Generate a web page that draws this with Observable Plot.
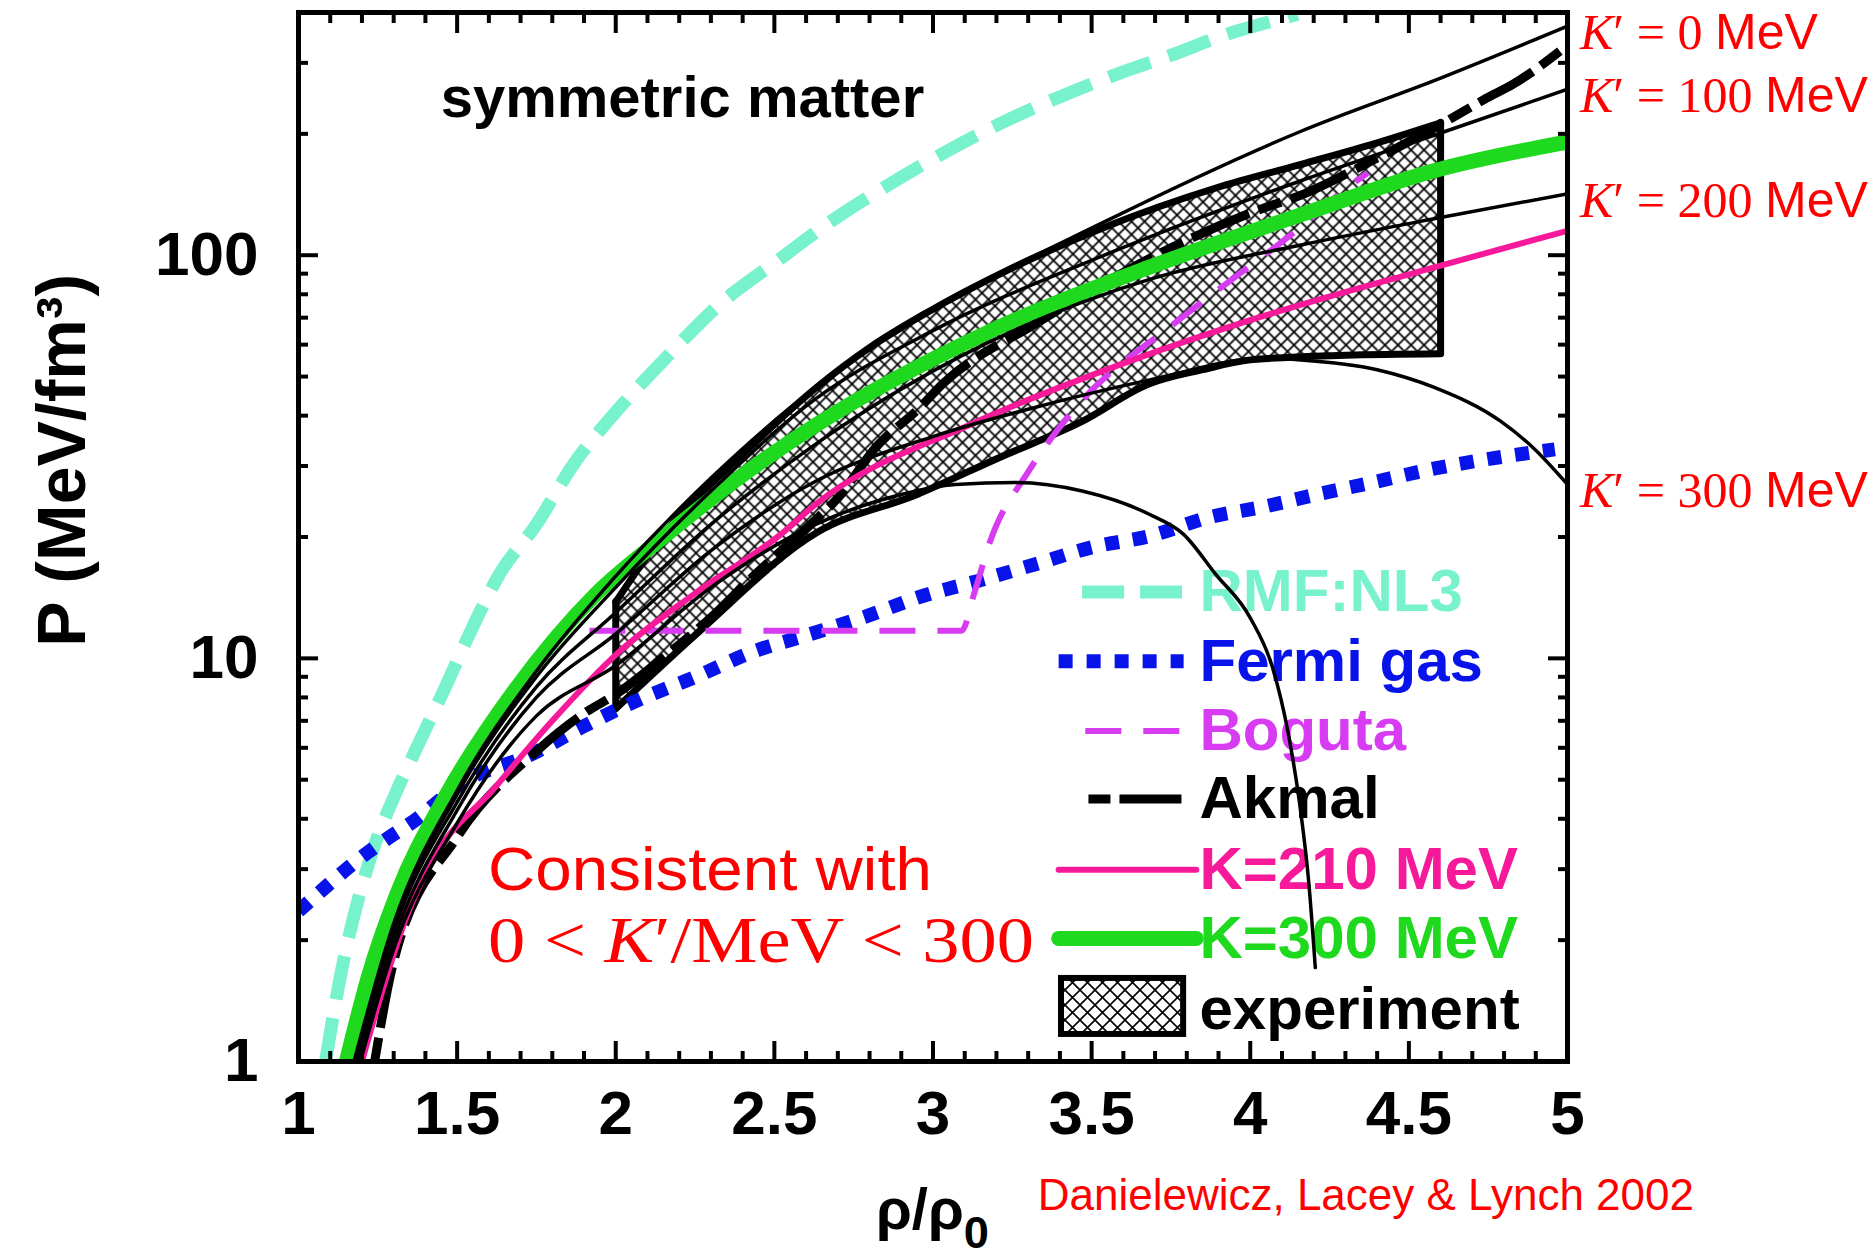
<!DOCTYPE html>
<html>
<head>
<meta charset="utf-8">
<script src="https://cdn.jsdelivr.net/npm/d3@7"></script>
<script src="https://cdn.jsdelivr.net/npm/@observablehq/plot@0.6"></script>
<style>
html, body { margin: 0; padding: 0; background: #fff; }
#chart svg { display: block; }
</style>
</head>
<body>
<div id="chart"></div>
<script>
// ===== values (x = rho/rho0, p = P in MeV/fm^3) =====
const rmfX = [1.085,1.129,1.23,1.309,1.382,1.467,1.539,1.634,1.75,1.867,2.002,2.16,2.327,2.516,2.696,2.863,3.043,3.222,3.399,3.578,3.758,3.925,4.092,4.149];
const rmfP = [1.0,1.58,3.26,4.68,6.22,8.62,11.5,16.2,21.5,30.3,41.0,55.8,75.5,97.7,124,150,181,214,247,281,315,353,385,396];

const fermiX = [1.0,1.095,1.189,1.277,1.362,1.523,1.728,1.898,2.075,2.255,2.428,2.611,2.781,2.97,3.159,3.32,3.506,3.682,3.872,4.045,4.209,4.385,4.574,4.748,4.96];
const fermiP = [2.36,2.75,3.17,3.56,3.94,4.95,5.75,6.78,7.91,9.02,10.35,11.47,12.65,14.3,15.7,17.1,18.9,20.1,22.4,23.8,25.5,27.3,29.5,31.2,33.0];

const bogutaX = [1.917,3.09,3.13,3.18,3.30,3.44,3.77,3.95,4.12,4.32,4.37];
const bogutaP = [11.7,11.7,14.5,19.5,29,41,68.6,88,111,150,160];

const akmalX = [1.24,1.3,1.5,1.75,1.91,2.0,2.15,2.31,2.43,2.6,2.7,2.82,2.96,3.03,3.32,3.79,4.02,4.17,4.38,4.6,4.74,4.83,5.0];
const akmalP = [1.0,1.77,3.6,5.88,7.39,8.14,10.05,12.85,15.9,21,25,33.4,42,47.9,67.4,108,129,142,171,211,244,266,332];

const k210X = [1.2,1.27,1.34,1.41,1.62,1.8,2.0,2.25,2.52,2.63,3.12,3.62,3.99,4.58,5.0];
const k210P = [1.0,1.55,2.28,3.03,4.79,7.0,10.2,14.5,20.3,24.1,38.1,54.6,68.6,93.3,115];

const k300X = [1.151,1.22,1.31,1.467,1.68,1.94,2.15,2.4,2.633,3.16,3.68,4.16,4.58,5.0];
const k300P = [1.0,1.62,2.6,4.6,8.3,14.5,20,28.5,38,63.7,93.3,126,162,191];

// Danielewicz et al. K' family (thin black)
const kp0X = [1.175,1.3,1.5,1.75,2.0,2.3,2.63,3.0,3.54,4.16,4.6,5.0];
const kp0P = [1.0,2.2,4.7,9.3,16,28,47,73,121,203,275,370];
const kp100X = [1.18,1.3,1.5,1.75,2.0,2.3,2.63,3.0,3.54,4.16,4.6,5.0];
const kp100P = [1.0,2.15,4.6,9.0,15,26,44,65,100,153,201,258];
const kp200X = [1.185,1.3,1.5,1.75,2.0,2.3,2.63,3.16,3.68,4.16,4.6,5.0];
const kp200P = [1.0,2.1,4.4,8.5,13,21.5,34,60,87,106,124,142];
const kp300X = [1.19,1.3,1.5,1.75,2.0,2.3,2.63,3.0,3.3,3.68,4.05,4.16,4.4,4.58,4.79,4.89,5.0];
const kp300P = [1.0,2.0,4.2,8.0,11.5,18.5,27.5,35.5,41.5,49,55.5,55,52,47,38.7,33.4,27];
const kp400X = [1.195,1.3,1.5,1.75,2.0,2.3,2.63,2.9,3.07,3.26,3.47,3.68,3.79,3.89,4.0,4.07,4.12,4.155,4.185,4.205];
const kp400P = [1.0,1.9,3.9,7.2,9.6,15,21.5,25.5,27,27.3,26,22.8,20.3,16.2,12.6,9.5,6.5,4.4,2.75,1.71];

// experimental band: upper and lower boundaries (x from 2 to 4.6)
const expUpX = [2.0,2.15,2.41,2.633,2.8,2.98,3.25,3.537,3.894,4.16,4.4,4.6];
const expUpP = [13.8,20.3,32.6,47,59,72,93,117,147,168,190,213];
const expLoX = [2.0,2.255,2.633,2.95,3.21,3.47,3.68,3.85,4.0,4.3,4.6];
const expLoP = [7.5,11.5,20.5,25.5,31.5,38.7,47.9,52,55,56.5,57];

// ticks and labels
const xTicks = [1,1.5,2,2.5,3,3.5,4,4.5,5];
const xMinorTicks = [1.1,1.2,1.3,1.4,1.6,1.7,1.8,1.9,2.1,2.2,2.3,2.4,2.6,2.7,2.8,2.9,3.1,3.2,3.3,3.4,3.6,3.7,3.8,3.9,4.1,4.2,4.3,4.4,4.6,4.7,4.8,4.9];
const yTicks = [1,10,100];
const yMinorTicks = [2,3,4,5,6,7,8,9,20,30,40,50,60,70,80,90,200,300,400];
const kPrimeValues = [0,100,200,300];
const kPrimeEnds = [kp0P[kp0P.length-1], kp100P[kp100P.length-1], kp200P[kp200P.length-1], kp300P[kp300P.length-1]];
const seriesNames = ["RMF:NL3","Fermi gas","Boguta","Akmal","K=210 MeV","K=300 MeV","experiment"];

// ===== styles / layout =====
const COL = {rmf:"#78f2cc", fermi:"#0713e8", boguta:"#d83cf2", akmal:"#000000", k210:"#f61a9a", k300:"#1fd91f", red:"#ff0000"};
const SANS = "'Liberation Sans', Arial, Helvetica, sans-serif";
const SERIF = "'Liberation Serif', 'DejaVu Serif', serif";
const rows = (xs, ps) => xs.map((x, i) => ({x, p: ps[i]}));
const L = {x: "x", y: "p", clip: true, curve: "monotone-x"};

// closed polygon for the hatched fill: upper boundary then lower boundary reversed
const expPoly = rows(expUpX, expUpP).concat(rows(expLoX, expLoP).reverse(), [{x: expUpX[0], p: expUpP[0]}]);

// legend layout (data space)
const legendTextX = 3.84;
const legendRowP = [14.6, 9.83, 6.6, 4.48, 2.99, 2.02, 1.34];
const legendSampleX0 = [3.47, 3.396, 3.48, 3.49, 3.396, 3.396];
const legendSampleX1 = [3.79, 3.79, 3.79, 3.79, 3.83, 3.83];
const legendStyles = [
  {stroke: COL.rmf, strokeWidth: 13, strokeDasharray: "42,16", strokeLinecap: "butt"},
  {stroke: COL.fermi, strokeWidth: 14, strokeDasharray: "14,14", strokeLinecap: "butt"},
  {stroke: COL.boguta, strokeWidth: 6, strokeDasharray: "36,22", strokeLinecap: "butt"},
  {stroke: COL.akmal, strokeWidth: 9, strokeDasharray: "22,9,62,9", strokeLinecap: "butt"},
  {stroke: COL.k210, strokeWidth: 6},
  {stroke: COL.k300, strokeWidth: 15}
];
const legendColors = [COL.rmf, COL.fermi, COL.boguta, COL.akmal, COL.k210, COL.k300, "#000"];
const annot = {x: 1.599, p1: 2.66, p2: 1.76};

function mathLabels(index, scales) {
  const g = d3.create("svg:g").attr("fill", COL.red).attr("text-anchor", "start");
  kPrimeValues.forEach((k, i) => {
    const t = g.append("text")
      .attr("x", scales.x(5) + 13)
      .attr("y", scales.y(kPrimeEnds[i]) + 6)
      .attr("dy", "0.35em")
      .attr("font-size", 50);
    t.append("tspan").attr("font-family", SERIF).attr("font-style", "italic").text("K");
    t.append("tspan").attr("font-family", SERIF).text("\u2032 = " + k + " ");
    t.append("tspan").attr("font-family", SANS).text("MeV");
  });
  g.append("text")
    .attr("x", scales.x(annot.x))
    .attr("y", scales.y(annot.p1))
    .attr("font-size", 62)
    .attr("font-family", SANS)
    .attr("textLength", 444)
    .attr("lengthAdjust", "spacingAndGlyphs")
    .text("Consistent with");
  const t2 = g.append("text")
    .attr("x", scales.x(annot.x))
    .attr("y", scales.y(annot.p2))
    .attr("font-size", 66)
    .attr("font-family", SERIF)
    .attr("textLength", 546)
    .attr("lengthAdjust", "spacingAndGlyphs");
  t2.append("tspan").text("0 < ");
  t2.append("tspan").attr("font-style", "italic").text("K");
  t2.append("tspan").text("\u2032/MeV < 300");
  return g.node();
}

function xTitle(index, scales, values, dims) {
  const t = d3.create("svg:text")
    .attr("x", scales.x(3))
    .attr("y", dims.height - dims.marginBottom + 168)
    .attr("text-anchor", "middle")
    .attr("font-size", 58)
    .attr("font-weight", "bold")
    .attr("font-family", SANS)
    .attr("fill", "black");
  t.append("tspan").text("\u03C1/\u03C1");
  t.append("tspan").attr("dy", "0.42em").attr("font-size", "0.78em").text("0");
  return t.node();
}

const legendMarks = [];
legendStyles.forEach((s, i) => {
  legendMarks.push(Plot.line([{x: legendSampleX0[i], p: legendRowP[i]}, {x: legendSampleX1[i], p: legendRowP[i]}], {x: "x", y: "p", ...s}));
});
seriesNames.forEach((name, i) => {
  legendMarks.push(Plot.text([{x: legendTextX, p: legendRowP[i], t: name}], {
    x: "x", y: "p", text: "t", textAnchor: "start", fill: legendColors[i],
    fontSize: 60, fontWeight: "bold", fontFamily: SANS
  }));
});
legendMarks.push(Plot.rect([{x1: 3.405, x2: 3.79, y1: 1.167, y2: 1.607}], {
  x1: "x1", x2: "x2", y1: "y1", y2: "y2", fill: "url(#xhatch2)", stroke: "black", strokeWidth: 6
}));

const kpStyle = {stroke: "black", strokeWidth: 3.5};
const expEdge = {stroke: "black", strokeWidth: 7, strokeLinecap: "round", strokeLinejoin: "round"};

const chart = Plot.plot({
  width: 1874,
  height: 1260,
  marginLeft: 298,
  marginRight: 307,
  marginTop: 12,
  marginBottom: 199,
  x: {domain: [1, 5]},
  y: {type: "log", domain: [1, 400]},
  style: {background: "white", fontFamily: SANS, color: "black", overflow: "visible"},
  marks: [
    // experimental band
    Plot.line(expPoly, {x: "x", y: "p", fill: "url(#xhatch)", stroke: "none", curve: "linear"}),
    Plot.line(rows(expUpX, expUpP), {x: "x", y: "p", curve: "monotone-x", ...expEdge}),
    Plot.line(rows(expLoX, expLoP), {x: "x", y: "p", curve: "monotone-x", ...expEdge}),
    Plot.ruleX([expUpX[0]], {x: d => d, y1: expLoP[0], y2: expUpP[0], ...expEdge}),
    Plot.ruleX([expUpX[expUpX.length - 1]], {x: d => d, y1: expLoP[expLoP.length - 1], y2: expUpP[expUpP.length - 1], ...expEdge}),
    // model curves
    Plot.line(rows(rmfX, rmfP), {...L, stroke: COL.rmf, strokeWidth: 13, strokeDasharray: "44,19", strokeLinecap: "butt"}),
    Plot.line(rows(fermiX, fermiP), {...L, stroke: COL.fermi, strokeWidth: 14, strokeDasharray: "14,14", strokeLinecap: "butt"}),
    Plot.line(rows(bogutaX, bogutaP), {...L, stroke: COL.boguta, strokeWidth: 6, strokeDasharray: "36,22", strokeLinecap: "butt"}),
    Plot.line(rows(akmalX, akmalP), {...L, stroke: COL.akmal, strokeWidth: 9, strokeDasharray: "24,10,62,10", strokeLinecap: "butt"}),
    Plot.line(rows(k210X, k210P), {...L, stroke: COL.k210, strokeWidth: 6}),
    Plot.line(rows(k300X, k300P), {...L, stroke: COL.k300, strokeWidth: 15}),
    // legend
    ...legendMarks,
    // K' family
    Plot.line(rows(kp0X, kp0P), {...L, ...kpStyle}),
    Plot.line(rows(kp100X, kp100P), {...L, ...kpStyle}),
    Plot.line(rows(kp200X, kp200P), {...L, ...kpStyle}),
    Plot.line(rows(kp300X, kp300P), {...L, ...kpStyle}),
    Plot.line(rows(kp400X, kp400P), {...L, ...kpStyle}),
    // frame and inward ticks
    Plot.frame({stroke: "black", strokeWidth: 5}),
    Plot.axisX({ticks: xTicks, anchor: "bottom", tickSize: -20, strokeWidth: 4, tickFormat: () => "", label: null}),
    Plot.axisX({ticks: xTicks, anchor: "top", tickSize: -20, strokeWidth: 4, tickFormat: () => "", label: null}),
    Plot.axisX({ticks: xMinorTicks, anchor: "bottom", tickSize: -10, strokeWidth: 4, tickFormat: () => "", label: null}),
    Plot.axisX({ticks: xMinorTicks, anchor: "top", tickSize: -10, strokeWidth: 4, tickFormat: () => "", label: null}),
    Plot.axisY({ticks: yTicks, anchor: "left", tickSize: -20, strokeWidth: 4, tickFormat: () => "", label: null}),
    Plot.axisY({ticks: yTicks, anchor: "right", tickSize: -20, strokeWidth: 4, tickFormat: () => "", label: null}),
    Plot.axisY({ticks: yMinorTicks, anchor: "left", tickSize: -10, strokeWidth: 4, tickFormat: () => "", label: null}),
    Plot.axisY({ticks: yMinorTicks, anchor: "right", tickSize: -10, strokeWidth: 4, tickFormat: () => "", label: null}),
    // tick labels
    Plot.axisX({ticks: xTicks, anchor: "bottom", tickSize: 0, tickPadding: 28, tickFormat: d => String(d), fontSize: 62, fontWeight: "bold", label: null}),
    Plot.axisY({ticks: yTicks, anchor: "left", tickSize: 0, tickPadding: 40, tickFormat: d => String(d), fontSize: 62, fontWeight: "bold", label: null}),
    // axis titles
    Plot.text([{p: 31}], {y: "p", frameAnchor: "left", dx: -235, rotate: -90, textAnchor: "middle", text: () => "P (MeV/fm\u00B3)", fontSize: 68, fontWeight: "bold", fontFamily: SANS}),
    xTitle,
    // annotations
    Plot.text([{x: 1.448, p: 220}], {x: "x", y: "p", text: () => "symmetric matter", textAnchor: "start", lineAnchor: "bottom", fontSize: 58, fontWeight: "bold", fontFamily: SANS}),
    Plot.text([{x: 3.33}], {x: "x", frameAnchor: "bottom", dy: 148, text: () => "Danielewicz, Lacey & Lynch 2002", textAnchor: "start", lineAnchor: "bottom", fontSize: 44, fill: COL.red, fontFamily: SANS}),
    mathLabels
  ]
});

// cross-hatch patterns for the experimental band
const defs = d3.select(chart).insert("defs", ":first-child");
function hatch(id, s, w) {
  const pat = defs.append("pattern").attr("id", id).attr("patternUnits", "userSpaceOnUse").attr("width", s).attr("height", s);
  pat.append("rect").attr("width", s).attr("height", s).attr("fill", "white");
  pat.append("path").attr("d", `M0,0L${s},${s}M${s},0L0,${s}`).attr("stroke", "black").attr("stroke-width", w).attr("fill", "none");
}
hatch("xhatch", 13, 1.7);
hatch("xhatch2", 15, 1.6);

document.getElementById("chart").appendChild(chart);
</script>
</body>
</html>
